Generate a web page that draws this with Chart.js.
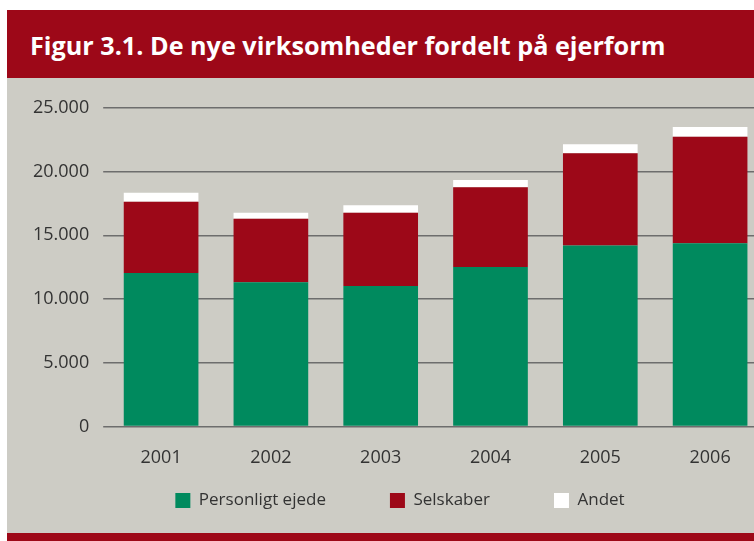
<!DOCTYPE html>
<html>
<head>
<meta charset="utf-8">
<script src="https://cdn.jsdelivr.net/npm/chart.js@4"></script>
<style>
  html, body { margin: 0; padding: 0; background: #fff; overflow: hidden; width: 754px; height: 541px; }
  #header { position: absolute; left: 7px; top: 10px; width: 760px; height: 68px; background: #9d0818; }
  #header h1 { position: absolute; left: 23px; top: 20px; margin: 0; font: bold 25.2px "Open Sans", sans-serif; color: #fff; line-height: 30px; white-space: nowrap; }
  #panel { position: absolute; left: 7px; top: 78px; width: 760px; height: 455px; background: #cdccc5; }
  #footer { position: absolute; left: 7px; top: 533px; width: 760px; height: 8px; background: #9d0818; }
  #wrap { position: absolute; left: 13px; top: 78px; width: 762px; height: 455px; }
</style>
</head>
<body>
<div id="header"><h1>Figur 3.1. De nye virksomheder fordelt på ejerform</h1></div>
<div id="panel"></div>
<div id="footer"></div>
<div id="wrap"><canvas id="chart"></canvas></div>
<script>
var years = ["2001", "2002", "2003", "2004", "2005", "2006"];
var personligt = [12050, 11320, 11030, 12520, 14210, 14390];
var selskaber = [5580, 4980, 5740, 6250, 7230, 8350];
var andet = [710, 470, 600, 570, 710, 760];
var tickValues = [0, 5000, 10000, 15000, 20000, 25000];

function danish(n) {
  return String(n).replace(/\B(?=(\d{3})+(?!\d))/g, ".");
}

// legend keeps its wide item spacing but gives its vertical room back to the plot
var legendRoom = 54;
var legendFix = {
  id: 'legendFix',
  beforeInit: function (chart) {
    var fit = chart.legend.fit;
    chart.legend.fit = function () {
      fit.call(this);
      this.height -= legendRoom;
    };
  },
  afterLayout: function (chart) {
    var lg = chart.legend;
    lg.top -= legendRoom;
    lg.left += 8;
    lg.right += 8;
  }
};

var context = document.getElementById("chart");

var myChart = new Chart(context, {
  type: 'bar',
  data: {
    labels: years,
    datasets: [
      { label: "Personligt ejede", data: personligt, backgroundColor: "#008a5e", borderWidth: 0 },
      { label: "Selskaber", data: selskaber, backgroundColor: "#9d0818", borderWidth: 0 },
      { label: "Andet", data: andet, backgroundColor: "#ffffff", borderWidth: 0 }
    ]
  },
  options: {
    responsive: true,
    maintainAspectRatio: false,
    animation: false,
    layout: { padding: { left: 6, right: 10, top: 30, bottom: 14 } },
    datasets: { bar: { barPercentage: 0.68, categoryPercentage: 1 } },
    scales: {
      x: {
        stacked: true,
        grid: { display: false },
        border: { display: false },
        ticks: { color: "#333", font: { family: "Open Sans", size: 18 }, padding: 13 }
      },
      y: {
        stacked: true,
        min: 0,
        max: 25000,
        afterBuildTicks: function (axis) {
          axis.ticks = tickValues.map(function (v) { return { value: v }; });
        },
        grid: { color: "#6d6d6d", lineWidth: 1.5, tickLength: 3 },
        border: { display: false },
        ticks: {
          color: "#333",
          font: { family: "Open Sans", size: 18 },
          padding: 14,
          callback: function (v) { return danish(v); }
        }
      }
    },
    plugins: {
      legend: {
        position: 'bottom',
        labels: {
          boxWidth: 15,
          boxHeight: 15,
          padding: 64,
          color: "#333",
          font: { family: "Open Sans", size: 17 }
        }
      },
      tooltip: { enabled: false }
    }
  },
  plugins: [legendFix]
});
</script>
</body>
</html>
